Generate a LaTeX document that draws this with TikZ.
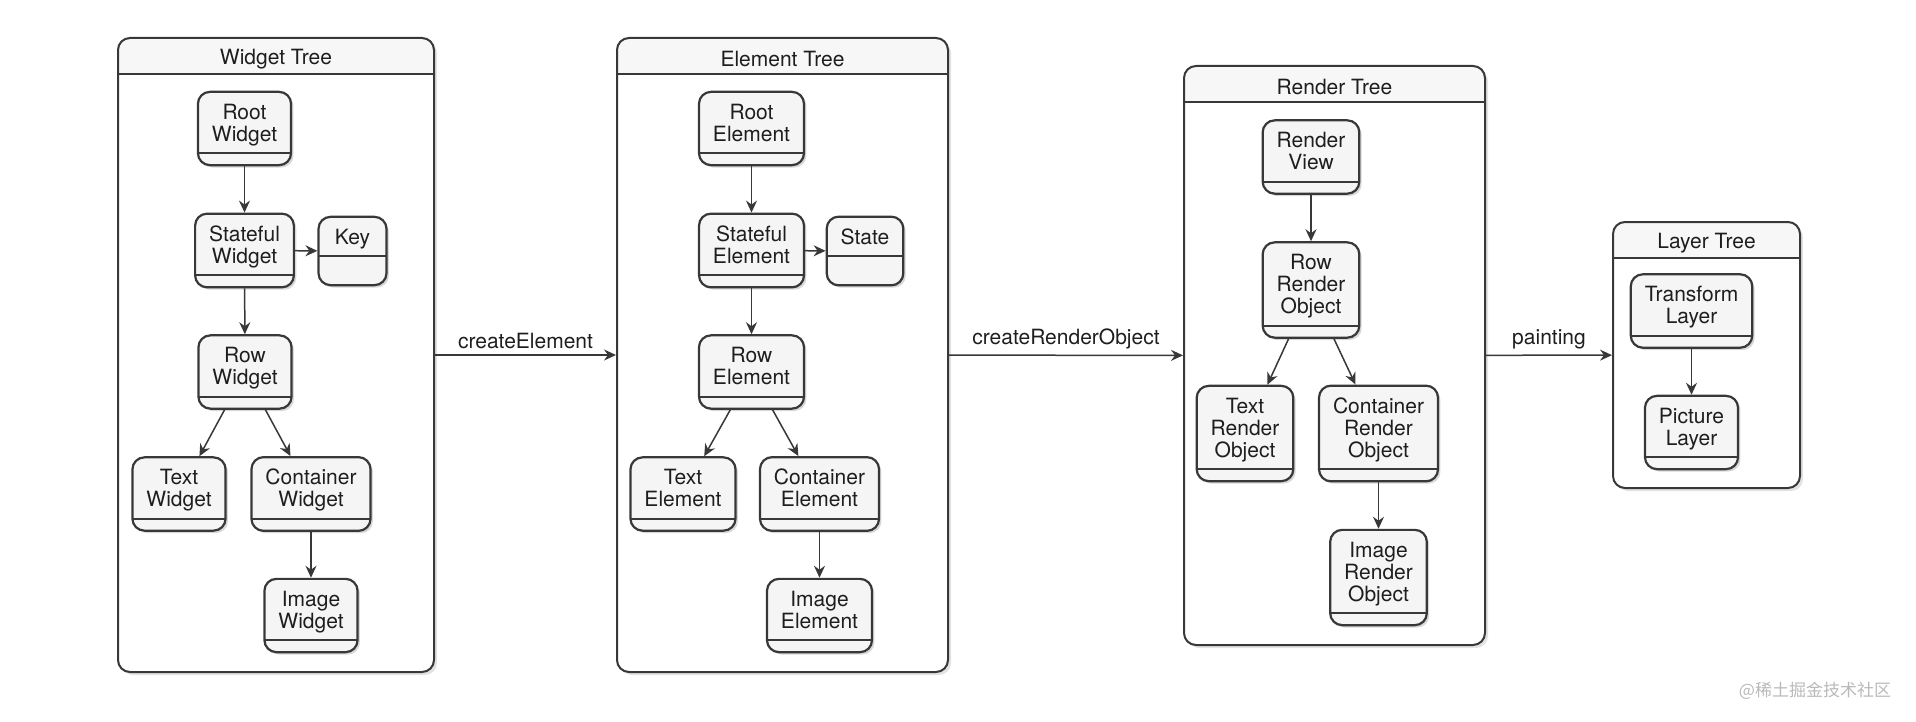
\documentclass[tikz,border=0pt]{standalone}
\usepackage{fontspec}
\setmainfont{TeX Gyre Heros}
\newfontfamily\cjkfont{Noto Sans CJK SC}
\usepackage{xcolor}
\usepackage{tikz}
\usetikzlibrary{arrows.meta,shadows,positioning,calc}

\definecolor{linegray}{HTML}{383838}
\definecolor{nodegray}{HTML}{F5F5F5}
\definecolor{headgray}{HTML}{F7F7F7}
\definecolor{textgray}{HTML}{1E1E1E}

\tikzset{
  treebox/.style={draw=linegray, line width=1pt, rounded corners=6pt, fill=white,
    drop shadow={shadow xshift=1.5pt, shadow yshift=-1.5pt, opacity=.22},
    path picture={
      \fill[headgray, sharp corners] (path picture bounding box.north west) rectangle ([yshift=-18pt]path picture bounding box.north east);
      \draw[linegray, line width=1pt] ([yshift=-18pt]path picture bounding box.north west) -- ([yshift=-18pt]path picture bounding box.north east);
    }},
  treetitle/.style={inner sep=2pt},
  umlbox/.style={draw=linegray, line width=1.1pt, rounded corners=6pt, fill=nodegray, align=center,
    inner xsep=7pt, inner ysep=6pt, minimum width=34pt,
    drop shadow={shadow xshift=1.2pt, shadow yshift=-1.2pt, opacity=.3},
    execute at end node={\rule[-#1]{0pt}{0pt}},
    path picture={\draw[linegray, line width=0.9pt] ([yshift=#1]path picture bounding box.south west) -- ([yshift=#1]path picture bounding box.south east);}},
  umlbox/.default=6pt,
  link/.style={draw=linegray, line width=0.75pt, -{Stealth[length=6pt, width=5.5pt, inset=2pt]}},
  flowlbl/.style={above, inner sep=2.5pt},
}

\begin{document}
\begin{tikzpicture}[x=0.5pt, y=-0.5pt, font=\fontsize{10.5}{11}\selectfont, text=textgray]
\useasboundingbox (0,0) rectangle (1916,722);

% The four trees
\node[treebox, minimum width=158pt, minimum height=317pt] (wtree) at (276,355) {};
\node[treetitle] (wtitle) at (276,59) {Widget Tree};
\node[treebox, minimum width=165.5pt, minimum height=317pt] (etree) at (782.5,355) {};
\node[treetitle] (etitle) at (782.5,59) {Element Tree};
\node[treebox, minimum width=150.5pt, minimum height=289.5pt] (rtree) at (1334.5,355.5) {};
\node[treetitle] (rtitle) at (1334.5,87.5) {Render Tree};
\node[treebox, minimum width=93.5pt, minimum height=133pt] (ltree) at (1706.5,355) {};
\node[treetitle] (ltitle) at (1706.5,243) {Layer Tree};

% Widget tree
\node[umlbox] (wroot) at (244.5,128.5) {Root\\Widget};
\node[umlbox] (wstateful) at (244.5,250.5) {Stateful\\Widget};
\node[umlbox=14.5pt] (wkey) at (352.5,251) {Key};
\node[umlbox] (wrow) at (245,372) {Row\\Widget};
\node[umlbox] (wtext) at (179,494) {Text\\Widget};
\node[umlbox] (wcontainer) at (311,494) {Container\\Widget};
\node[umlbox] (wimage) at (311,615.5) {Image\\Widget};
\draw[link] (wroot) -- (wstateful);
\draw[link] (wstateful) -- (wkey);
\draw[link] (wstateful) -- (wrow);
\draw[link] (wrow) -- (wtext);
\draw[link] (wrow) -- (wcontainer);
\draw[link] (wcontainer) -- (wimage);

% Element tree
\node[umlbox] (eroot) at (751.5,128.5) {Root\\Element};
\node[umlbox] (estateful) at (751.5,250.5) {Stateful\\Element};
\node[umlbox=14.5pt] (estate) at (865,251) {State};
\node[umlbox] (erow) at (751.5,372) {Row\\Element};
\node[umlbox] (etext) at (683,494) {Text\\Element};
\node[umlbox] (econtainer) at (819.5,494) {Container\\Element};
\node[umlbox] (eimage) at (819.5,615.5) {Image\\Element};
\draw[link] (eroot) -- (estateful);
\draw[link] (estateful) -- (estate);
\draw[link] (estateful) -- (erow);
\draw[link] (erow) -- (etext);
\draw[link] (erow) -- (econtainer);
\draw[link] (econtainer) -- (eimage);

% Render tree
\node[umlbox] (rview) at (1311,157) {Render\\View};
\node[umlbox] (rrow) at (1311,290) {Row\\Render\\Object};
\node[umlbox] (rtext) at (1245,433.5) {Text\\Render\\Object};
\node[umlbox] (rcontainer) at (1378.5,433.5) {Container\\Render\\Object};
\node[umlbox] (rimage) at (1378.5,577.5) {Image\\Render\\Object};
\draw[link] (rview) -- (rrow);
\draw[link] (rrow) -- (rtext);
\draw[link] (rrow) -- (rcontainer);
\draw[link] (rcontainer) -- (rimage);

% Layer tree
\node[umlbox] (ltransform) at (1691.5,311) {Transform\\Layer};
\node[umlbox] (lpicture) at (1691.5,432.5) {Picture\\Layer};
\draw[link] (ltransform) -- (lpicture);

% Between the trees
\draw[link] (wtree) -- node[flowlbl] {createElement} (etree);
\draw[link] (etree) -- node[flowlbl] {createRenderObject} (rtree);
\draw[link] (rtree) -- node[flowlbl] {painting} (ltree);

\node[font=\cjkfont\fontsize{8.5}{10}\selectfont, text=gray!55] (mark) at (1815,691) {@稀土掘金技术社区};

\end{tikzpicture}
\end{document}
